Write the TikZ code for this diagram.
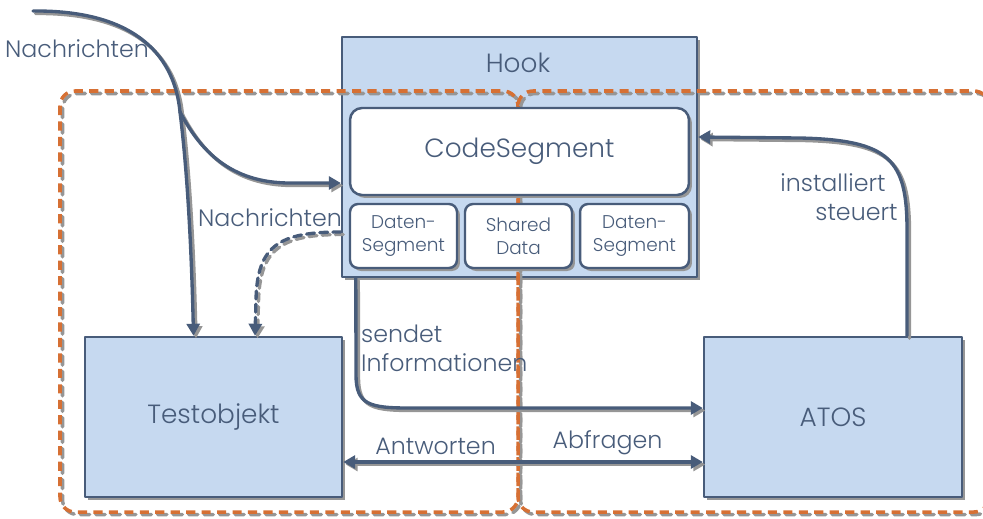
\documentclass[tikz,border=0pt]{standalone}
\usepackage{fontspec}
\setmainfont{Poppins}[UprightFont=* Light]
\usetikzlibrary{arrows.meta,shadows}
\definecolor{linie}{RGB}{72,92,122}
\definecolor{kasten}{RGB}{198,217,240}
\definecolor{bereich}{RGB}{214,112,52}
\definecolor{schatten}{RGB}{150,150,150}
\begin{document}
\begin{tikzpicture}[x=0.02cm, y=-0.02cm, >={Triangle[length=0.24cm,width=0.26cm]}, line join=round, line cap=round, text=linie,
	box/.style={draw=linie, line width=1.4pt, fill=kasten, inner sep=0pt,
		drop shadow={shadow xshift=0.06cm, shadow yshift=-0.06cm, fill=schatten, opacity=1}},
	seg/.style={box, fill=white},
	conn/.style={draw=linie, line width=1.9pt,
		preaction={draw=schatten, line width=1.9pt, transform canvas={shift={(0.05cm,-0.05cm)}}}},
	connd/.style={draw=linie, line width=1.9pt, dash pattern=on 4.5pt off 3pt,
		preaction={draw=schatten, line width=1.9pt, dash pattern=on 4.5pt off 3pt, transform canvas={shift={(0.05cm,-0.05cm)}}}},
	region/.style={draw=bereich, line width=2pt, line cap=butt, dash pattern=on 5.2pt off 3.6pt, rounded corners=0.3cm,
		preaction={draw=schatten, line width=2pt, dash pattern=on 5.2pt off 3.6pt, transform canvas={shift={(0.05cm,-0.05cm)}}}},
	big/.style={font=\fontsize{15}{18}\selectfont},
	lbl/.style={font=\fontsize{13.5}{16.5}\selectfont},
	small/.style={font=\fontsize{10.5}{13}\selectfont, align=center}]
	\clip (0,0) rectangle (983,518);
	%\draw[gray!30] (0,0) grid[step=50] (983,518);
	% Hook
	\node[box, minimum width=7.1cm, minimum height=4.8cm] (hook) at (519.5,157) {};
	\node[big] (hooktxt) at (518,63) {Hook};
	% Bereiche
	\draw[region] (60,91) rectangle (518,512);
	\draw[region] (518,91) rectangle (989,512);
	% Segmente
	\node[seg, rounded corners=0.24cm, minimum width=6.78cm, minimum height=1.74cm, big] (code) at (519.5,151.5) {CodeSegment};
	\node[seg, rounded corners=0.16cm, minimum width=2.14cm, minimum height=1.28cm, small] (daten1) at (403.5,236) {Daten-\\Segment};
	\node[seg, rounded corners=0.16cm, minimum width=2.14cm, minimum height=1.28cm, small] (shared) at (518.5,236) {Shared\\Data};
	\node[seg, rounded corners=0.16cm, minimum width=2.18cm, minimum height=1.28cm, small] (daten2) at (634.5,236) {Daten-\\Segment};
	% Testobjekt, ATOS
	\node[box, minimum width=5.14cm, minimum height=3.2cm, big] (test) at (213.5,417) {Testobjekt};
	\node[box, minimum width=5.16cm, minimum height=3.2cm, big] (atos) at (833,417) {ATOS};
	% Nachrichten
	\coordinate (quelle) at (33,11);
	\coordinate (abzw) at (180,112);
	\draw[conn] (quelle) .. controls (140,10) and (175,60) .. (abzw);
	\draw[conn,->] (abzw) .. controls (186,160) and (191,230) .. ([xshift=-0.4cm]test.north);
	\draw[conn,->] (abzw) .. controls (200,150) and (230,183) .. (290,183) -- ([yshift=-0.52cm]hook.west);
	\node[lbl] (nachr1) at (77,49) {Nachrichten};
	\draw[connd,->] ([yshift=-1.5cm]hook.west) .. controls (280,232) and (257,245) .. (256,300) -- ([xshift=0.83cm]test.north);
	\node[lbl] (nachr2) at (270,218) {Nachrichten};
	% sendet
	\draw[conn,->] ([xshift=0.3cm]hook.south west) -- (356,375) .. controls (356,405) and (370,408) .. (410,408) -- ([yshift=0.18cm]atos.west);
	\node[lbl, align=left, anchor=west] (sendet) at (355,348) {sendet\\Informationen};
	% Antworten / Abfragen
	\draw[conn,<->] ([yshift=-0.9cm]test.east) -- node[lbl, above, pos=0.257] (antw) {Antworten}
		node[lbl, above, pos=0.735] (abfr) {Abfragen} ([yshift=-0.9cm]atos.west);
	% installiert
	\draw[conn,->] ([xshift=1.48cm]atos.north) -- (907,230) .. controls (907,160) and (890,140) .. (800,138) -- ([yshift=0.4cm]hook.east);
	\node[lbl, align=right] (inst) at (839,197) {installiert\hspace*{0.24cm}\\steuert};
\end{tikzpicture}
\end{document}
